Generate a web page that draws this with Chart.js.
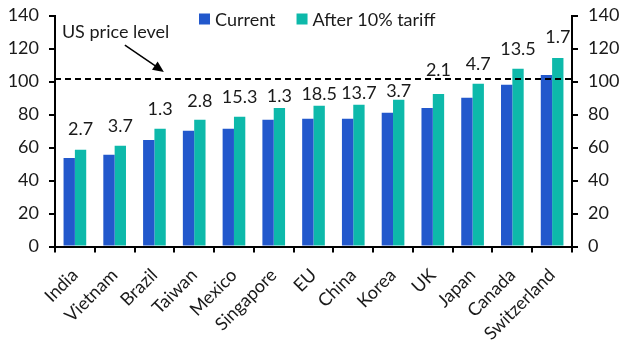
<!DOCTYPE html>
<html>
<head>
<meta charset="utf-8">
<script src="https://cdn.jsdelivr.net/npm/chart.js@4"></script>
<style>
  html, body { margin: 0; padding: 0; background: #fff; }
  #wrap { width: 629px; height: 355px; position: relative; }
</style>
</head>
<body>
<div id="wrap"><canvas id="c" width="629" height="355"></canvas></div>
<script>
const categories = ["India", "Vietnam", "Brazil", "Taiwan", "Mexico", "Singapore", "EU", "China", "Korea", "UK", "Japan", "Canada", "Switzerland"];
const currentValues = [53.7, 55.6, 64.6, 70.1, 71.3, 76.8, 77.4, 77.4, 81.0, 84.0, 90.1, 98.0, 104.0];
const tariffValues = [58.6, 61.0, 71.3, 76.8, 78.6, 84.0, 85.3, 85.9, 88.9, 92.5, 98.6, 107.7, 114.3];
const barLabels = ["2.7", "3.7", "1.3", "2.8", "15.3", "1.3", "18.5", "13.7", "3.7", "2.1", "4.7", "13.5", "1.7"];
const seriesNames = ["Current", "After 10% tariff"];
const usPriceLevel = 101.5;
const yTicks = [0, 20, 40, 60, 80, 100, 120, 140];

const FONT = "Lato, 'Open Sans', sans-serif";
const FS = 18;
const BLUE = "#2258cc";
const TEAL = "#0db9aa";
const INK = "#1a1a1a";
// style: how far (px) each value label sits above its bar
const labelGaps = [21, 20, 20, 19, 20, 12, 12, 11.5, 9, 23.5, 19.5, 20, 21];

const overlay = {
  id: "overlay",
  afterDatasetsDraw(chart) {
    const ctx = chart.ctx;
    const area = chart.chartArea;
    const x = chart.scales.x, y = chart.scales.y;
    ctx.save();
    // dashed US price level line
    const yl = Math.round(y.getPixelForValue(usPriceLevel));
    ctx.strokeStyle = "#000";
    ctx.lineWidth = 2;
    ctx.setLineDash([6, 4]);
    ctx.beginPath();
    ctx.moveTo(area.left, yl);
    ctx.lineTo(area.right, yl);
    ctx.stroke();
    ctx.setLineDash([]);

    // data labels above tariff bars
    ctx.font = FS + "px " + FONT;
    ctx.fillStyle = INK;
    ctx.textAlign = "center";
    ctx.textBaseline = "middle";
    const meta = chart.getDatasetMeta(1);
    meta.data.forEach((bar, i) => {
      ctx.fillText(barLabels[i], bar.x, bar.y - labelGaps[i]);
    });

    // annotation text + arrow
    ctx.textAlign = "left";
    ctx.fillText("US price level", x.getPixelForValue(0) - 13, y.getPixelForValue(130));
    const x1 = x.getPixelForValue(0) + 50, y1 = y.getPixelForValue(122);
    const x2 = x.getPixelForValue(0) + 89, y2 = y.getPixelForValue(105.8);
    ctx.strokeStyle = "#000";
    ctx.lineWidth = 1.5;
    ctx.beginPath();
    ctx.moveTo(x1, y1);
    ctx.lineTo(x2 - 6, y2 - 4.2);
    ctx.stroke();
    const ang = Math.atan2(y2 - y1, x2 - x1);
    ctx.fillStyle = "#000";
    ctx.beginPath();
    ctx.moveTo(x2, y2);
    ctx.lineTo(x2 - 11 * Math.cos(ang) + 5 * Math.sin(ang), y2 - 11 * Math.sin(ang) - 5 * Math.cos(ang));
    ctx.lineTo(x2 - 11 * Math.cos(ang) - 5 * Math.sin(ang), y2 - 11 * Math.sin(ang) + 5 * Math.cos(ang));
    ctx.closePath();
    ctx.fill();

    // legend
    ctx.font = FS + "px " + FONT;
    ctx.textBaseline = "middle";
    let lx = 199;
    const ly = 19;
    chart.data.datasets.forEach((ds, i) => {
      ctx.fillStyle = ds.backgroundColor;
      ctx.fillRect(lx, ly - 5.5, 11, 11);
      ctx.fillStyle = INK;
      ctx.fillText(ds.label, lx + 16, ly + 1);
      lx += 16 + ctx.measureText(ds.label).width + 21;
    });
    ctx.restore();
  }
};

const yAxisCommon = {
  min: 0, max: 140,
  afterBuildTicks: (s) => { s.ticks = yTicks.map(v => ({ value: v })); },
  grid: { display: true, drawOnChartArea: false, drawTicks: true, tickLength: 6, color: "#000", lineWidth: 2 },
  border: { display: true, color: "#000", width: 2 },
  ticks: { color: INK, font: { size: FS, family: FONT }, padding: 10 }
};

new Chart(document.getElementById("c"), {
  type: "bar",
  data: {
    labels: categories,
    datasets: [
      { label: seriesNames[0], data: currentValues, backgroundColor: BLUE, borderWidth: 0, categoryPercentage: 0.57, barPercentage: 1.0 },
      { label: seriesNames[1], data: tariffValues, backgroundColor: TEAL, borderWidth: 0, categoryPercentage: 0.57, barPercentage: 1.0 }
    ]
  },
  options: {
    responsive: false,
    animation: false,
    devicePixelRatio: 1,
    layout: { padding: { top: 15.5, left: 0, right: 0, bottom: 0 } },
    plugins: { legend: { display: false }, tooltip: { enabled: false } },
    scales: {
      x: {
        offset: true,
        grid: { display: true, offset: true, drawOnChartArea: false, drawTicks: true, tickLength: 6, color: "#000", lineWidth: 2 },
        border: { display: true, color: "#000", width: 2 },
        ticks: { color: INK, font: { size: FS, family: FONT }, autoSkip: false, minRotation: 45, maxRotation: 45, padding: 12 },
        afterFit: (s) => { s.height = 108.5; s.paddingLeft = 0; s.paddingRight = 0; }
      },
      y: Object.assign({}, yAxisCommon, { position: "left", afterFit: (s) => { s.width = 55; s.paddingTop = 0; s.paddingBottom = 0; } }),
      y2: Object.assign({}, yAxisCommon, { position: "right", afterFit: (s) => { s.width = 57; s.paddingTop = 0; s.paddingBottom = 0; } })
    }
  },
  plugins: [overlay]
});
</script>
</body>
</html>
